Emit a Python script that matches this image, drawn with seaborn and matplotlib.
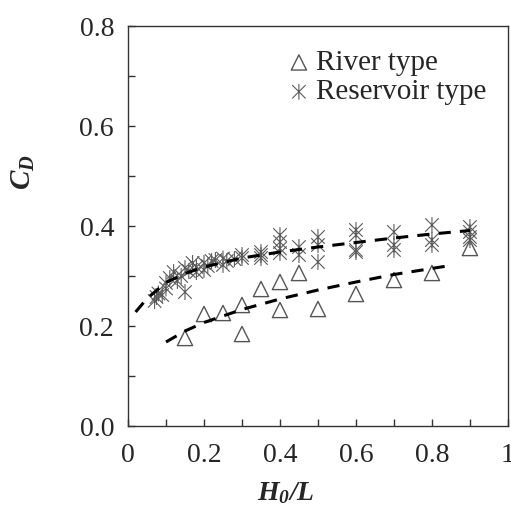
import matplotlib
matplotlib.use("Agg")
from matplotlib import pyplot as plt
from matplotlib.path import Path
from matplotlib.ticker import MultipleLocator, FixedFormatter, FixedLocator
import seaborn as sns
import pandas as pd
import numpy as np

sns.set_style("ticks")
plt.rcParams['font.family'] = ['Liberation Serif', 'DejaVu Serif']
plt.rcParams['mathtext.fontset'] = 'custom'
plt.rcParams['mathtext.it'] = 'Liberation Serif:italic:bold'
plt.rcParams['mathtext.rm'] = 'Liberation Serif:italic:bold'
plt.rcParams['mathtext.default'] = 'it'

# river type measurements
river_x = [0.15, 0.2, 0.25, 0.3, 0.3, 0.35, 0.4, 0.4, 0.45, 0.5, 0.6, 0.7, 0.8, 0.9]
river_y = [0.176, 0.224, 0.226, 0.242, 0.184, 0.274, 0.288, 0.232, 0.306, 0.234, 0.264, 0.292, 0.306, 0.356]

# reservoir type measurements
res_x = [0.07, 0.075, 0.08, 0.09, 0.1, 0.1, 0.11, 0.12, 0.13, 0.14,
         0.15, 0.15, 0.16, 0.17, 0.18, 0.18, 0.2, 0.2, 0.21, 0.22,
         0.23, 0.25, 0.25, 0.26, 0.28, 0.3, 0.3, 0.35, 0.35, 0.35,
         0.4, 0.4, 0.4, 0.4, 0.45, 0.45, 0.5, 0.5, 0.5, 0.6,
         0.6, 0.6, 0.6, 0.7, 0.7, 0.7, 0.8, 0.8, 0.8, 0.9,
         0.9, 0.9, 0.9]
res_y = [0.250, 0.258, 0.265, 0.262, 0.286, 0.275, 0.296, 0.308, 0.290, 0.300,
         0.316, 0.268, 0.310, 0.326, 0.308, 0.318, 0.326, 0.312, 0.320, 0.330,
         0.332, 0.322, 0.335, 0.330, 0.334, 0.336, 0.342, 0.342, 0.348, 0.336,
         0.382, 0.368, 0.355, 0.346, 0.358, 0.342, 0.378, 0.362, 0.328, 0.392,
         0.382, 0.352, 0.348, 0.388, 0.362, 0.352, 0.402, 0.372, 0.362, 0.398,
         0.388, 0.378, 0.372]

# trend curves
river_fit_x = [0.1, 0.15, 0.2, 0.3, 0.4, 0.5, 0.6, 0.7, 0.84]
river_fit_y = [0.168, 0.190, 0.207, 0.233, 0.254, 0.272, 0.288, 0.303, 0.320]
res_fit_x = [0.02, 0.05, 0.1, 0.15, 0.2, 0.3, 0.4, 0.5, 0.6, 0.7, 0.8, 0.9]
res_fit_y = [0.228, 0.255, 0.287, 0.305, 0.318, 0.336, 0.348, 0.358, 0.367, 0.376, 0.384, 0.391]

river = pd.DataFrame({'x': river_x, 'y': river_y})
res = pd.DataFrame({'x': res_x, 'y': res_y})

# excel-like asterisk: x with a vertical bar
star = Path([(0, -1), (0, 1), (-0.85, -0.85), (0.85, 0.85), (-0.85, 0.85), (0.85, -0.85)],
            [Path.MOVETO, Path.LINETO, Path.MOVETO, Path.LINETO, Path.MOVETO, Path.LINETO])

fig = plt.figure(figsize=(5.11, 5.16), dpi=100)
ax = fig.add_axes([0.2505, 0.1744, 0.7435, 0.7752])

sns.scatterplot(x='x', y='y', data=river, marker='^', s=120, facecolor='none',
                edgecolor='#555555', linewidth=1.0, ax=ax, label='River type')
sns.scatterplot(x='x', y='y', data=res, marker=star, s=130, facecolor='none',
                edgecolor='#5a5a5a', linewidth=0.8, ax=ax, label='Reservoir type')
sns.lineplot(x=river_fit_x, y=river_fit_y, color='black', lw=2.2, dashes=False,
             ax=ax, linestyle=(0, (4, 3)), legend=False)
sns.lineplot(x=res_fit_x, y=res_fit_y, color='black', lw=2.2, dashes=False,
             ax=ax, linestyle=(0, (4, 3)), legend=False)

ax.set_xlim(0, 1)
ax.set_ylim(0, 0.8)
ax.xaxis.set_major_locator(FixedLocator([0, 0.2, 0.4, 0.6, 0.8, 1.0]))
ax.xaxis.set_major_formatter(FixedFormatter(['0', '0.2', '0.4', '0.6', '0.8', '1']))
ax.xaxis.set_minor_locator(MultipleLocator(0.1))
ax.yaxis.set_major_locator(MultipleLocator(0.2))
ax.yaxis.set_major_formatter(matplotlib.ticker.FormatStrFormatter('%.1f'))
ax.yaxis.set_minor_locator(MultipleLocator(0.1))
ax.tick_params(which='both', direction='in', length=5, width=1, color='#333333',
               labelsize=20)
ax.tick_params(axis='x', pad=12)
ax.tick_params(axis='y', pad=10)
for sp in ax.spines.values():
    sp.set_color('#333333')
    sp.set_linewidth(1.0)

ax.set_xlabel('$H_0/L$', fontsize=20)
ax.set_ylabel('$C_D$', fontsize=21)
ax.xaxis.set_label_coords(0.416, -0.135)
ax.yaxis.set_label_coords(-0.24, 0.635)

leg = ax.legend(loc='upper right', bbox_to_anchor=(0.975, 0.97), frameon=False,
                fontsize=21, handletextpad=0.1, handlelength=1.0,
                labelspacing=0.1, borderaxespad=0)

fig.savefig('out.png', dpi=100)
